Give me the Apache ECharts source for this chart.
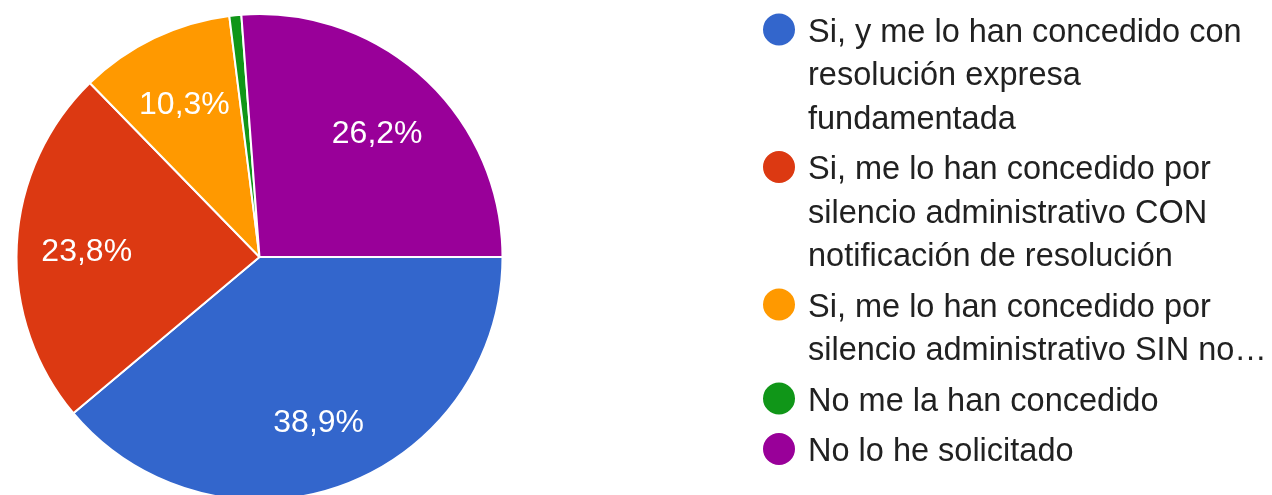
<!DOCTYPE html>
<html><head><meta charset="utf-8">
<script src="https://cdn.jsdelivr.net/npm/echarts@6/dist/echarts.min.js"></script>
<style>html,body{margin:0;padding:0;background:#fff}#c{width:1272px;height:495px}</style>
</head><body><div id="c"></div>
<script>
const categories = [
  'Si, y me lo han concedido con resolución expresa fundamentada',
  'Si, me lo han concedido por silencio administrativo CON notificación de resolución',
  'Si, me lo han concedido por silencio administrativo SIN notificación de resolución',
  'No me la han concedido',
  'No lo he solicitado'
];
const counts = [49, 30, 13, 1, 33];
const colors = ['#3366CC', '#DC3912', '#FF9900', '#109618', '#990099'];
const legendLines = [
  ['Si, y me lo han concedido con', 'resolución expresa', 'fundamentada'],
  ['Si, me lo han concedido por', 'silencio administrativo CON', 'notificación de resolución'],
  ['Si, me lo han concedido por', 'silencio administrativo SIN no…'],
  ['No me la han concedido'],
  ['No lo he solicitado']
];

const FONT = 'Arial, "Liberation Sans", sans-serif';
const LH = 43.5;
const data = categories.map((n, i) => ({ name: n, value: counts[i] }));

// legend icon: a circle beside the first text line, inside a box as tall as the item's text
function iconFor(nLines) {
  const H = nLines * LH;
  const cy = 18.5;
  return 'path://M0 0L0.01 0L0.01 0.01Z' +
    'M47.99 ' + (H - 0.01) + 'L48 ' + (H - 0.01) + 'L48 ' + H + 'Z' +
    'M8 ' + cy + 'A16 16 0 1 0 40 ' + cy + 'A16 16 0 1 0 8 ' + cy + 'Z';
}

const chart = echarts.init(document.getElementById('c'));
chart.setOption({
  animation: false,
  color: colors,
  legend: {
    orient: 'vertical',
    left: 755,
    top: 11,
    padding: 0,
    itemGap: 7,
    itemWidth: 48,
    itemHeight: 3 * LH,
    symbolKeepAspect: true,
    selectedMode: false,
    itemStyle: { borderWidth: 0 },
    textStyle: { fontSize: 32.5, lineHeight: LH, color: '#212121', fontFamily: FONT },
    data: categories.map((n, i) => ({ name: n, icon: iconFor(legendLines[i].length) })),
    formatter: function (name) {
      return legendLines[categories.indexOf(name)].join('\n');
    }
  },
  series: [
    {
      type: 'pie',
      center: [259.5, 257],
      radius: [0, 243],
      startAngle: 0,
      clockwise: true,
      silent: true,
      label: { show: false },
      labelLine: { show: false },
      itemStyle: { borderColor: '#fff', borderWidth: 2 },
      emphasis: { disabled: true },
      data: data
    },
    {
      type: 'pie',
      center: [259.5, 257],
      radius: [0, 340],
      startAngle: 0,
      clockwise: true,
      silent: true,
      minShowLabelAngle: 5,
      itemStyle: { color: 'rgba(0,0,0,0)' },
      emphasis: { disabled: true },
      labelLine: { show: false },
      label: {
        show: true,
        position: 'inside',
        offset: [0, 4],
        color: '#fff',
        fontSize: 32,
        fontFamily: FONT,
        formatter: p => p.percent.toFixed(1).replace('.', ',') + '%'
      },
      data: data
    }
  ]
});
</script></body></html>
